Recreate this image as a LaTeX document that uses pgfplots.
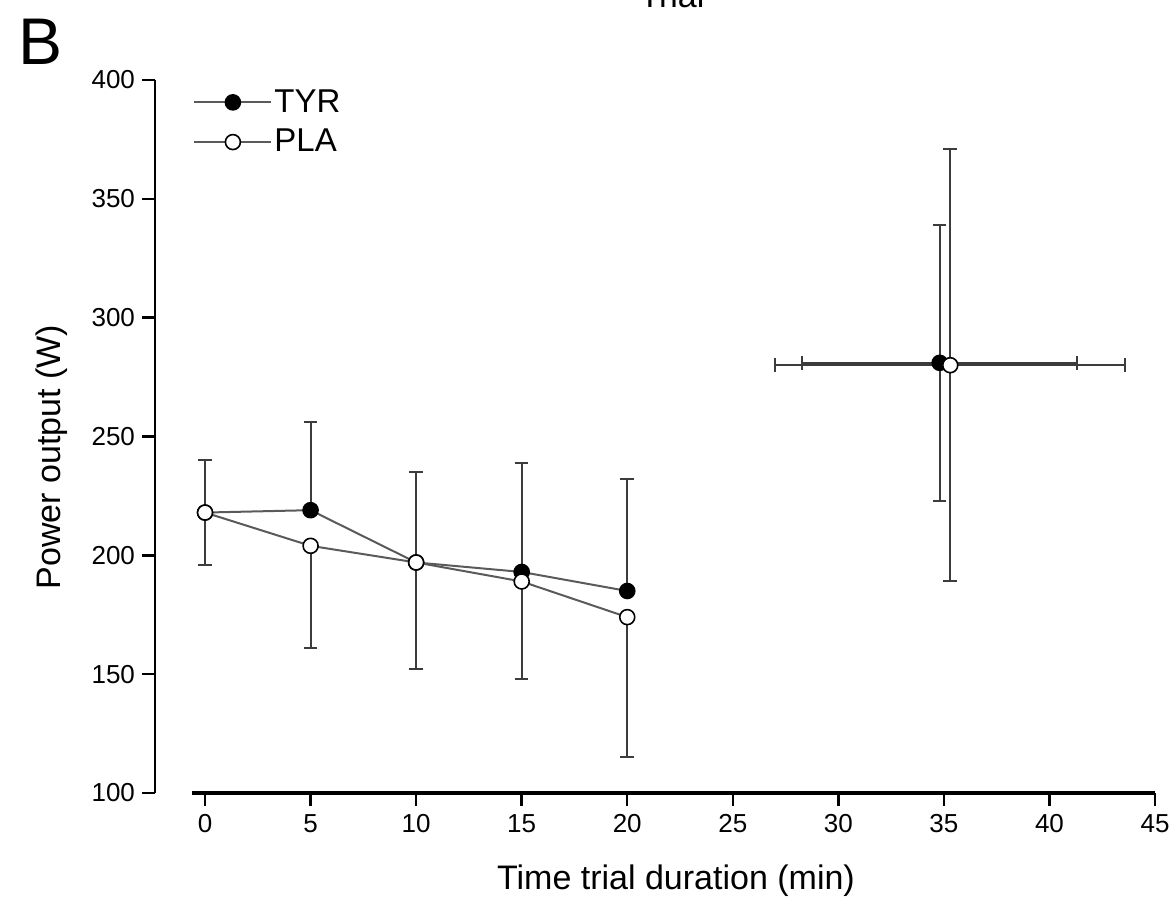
\documentclass[border=0pt]{standalone}
\usepackage{fontspec}
\setmainfont{Liberation Sans}
\usepackage{pgfplots}
\pgfplotsset{compat=1.18}
\usepackage{pgfplotstable}

\definecolor{linegray}{HTML}{5A5A5A}
\definecolor{errgray}{HTML}{3C3C3C}

% time (min), mean power (W), SD (TYR drawn upwards, PLA downwards)
\pgfplotstableread{
x y ey
0 218 22
5 219 37
10 197 38
15 193 46
20 185 47
}\tyr
\pgfplotstableread{
x y ey
0 218 22
5 204 43
10 197 45
15 189 41
20 174 59
}\pla
% whole time trial: mean duration and power, SD both ways
\pgfplotstableread{
x y ex ey
34.8 281 6.5 58
}\tyrend
\pgfplotstableread{
x y ex ey
35.3 280 8.3 91
}\plaend

\begin{document}
\begin{tikzpicture}
\begin{axis}[
  scale only axis,
  width=500pt, height=356.5pt,
  xmin=-2.37, xmax=45,
  ymin=100, ymax=400,
  axis y line*=left,
  axis x line*=bottom,
  x axis line style={draw=none},
  y axis line style={line width=1.4pt},
  xtick={0,5,...,45},
  ytick={100,150,...,400},
  tick align=outside,
  major tick length=6.5pt,
  every tick/.style={black, line width=1.2pt},
  tick label style={font=\fontsize{13}{15}\selectfont},
  x tick label style={text height=9.5pt, text depth=0pt},
  /pgf/number format/assume math mode=true,
  clip=false,
  legend style={draw=none, fill=none, at={(rel axis cs:0.038,0.99)},
    anchor=north west, font=\fontsize{16.5}{19}\selectfont,
    row sep=5pt, inner sep=0pt, nodes={inner sep=1pt}},
  legend cell align=left,
  legend image code/.code={\draw[mark repeat=2,mark phase=2,#1]
    plot coordinates {(0pt,0pt) (19.25pt,0pt) (38.5pt,0pt)};},
  error bars/error bar style={line width=1pt, errgray},
  error bars/error mark options={rotate=90, line width=1pt, mark size=3.4pt, errgray},
]

\addplot[linegray, line width=1pt, mark=*, mark size=3.75pt,
  mark options={draw=black, fill=black, line width=0.8pt},
  error bars/.cd, y dir=plus, y explicit]
  table[x=x, y=y, y error=ey]{\tyr};
\addlegendentry{TYR}

\addplot[linegray, line width=1pt, mark=*, mark size=3.75pt,
  mark options={draw=black, fill=white, line width=0.8pt},
  error bars/.cd, y dir=minus, y explicit]
  table[x=x, y=y, y error=ey]{\pla};
\addlegendentry{PLA}

\addplot[only marks, forget plot, mark=*, mark size=3.75pt,
  mark options={draw=black, fill=black, line width=0.8pt},
  error bars/.cd, x dir=both, x explicit, y dir=both, y explicit]
  table[x=x, y=y, x error=ex, y error=ey]{\tyrend};

\addplot[only marks, forget plot, mark=*, mark size=3.75pt,
  mark options={draw=black, fill=white, line width=0.8pt},
  error bars/.cd, x dir=both, x explicit, y dir=both, y explicit]
  table[x=x, y=y, x error=ex, y error=ey]{\plaend};

\draw[line width=1.8pt] (axis cs:-0.62,100) -- (axis cs:45,100);

\node[font=\fontsize{17}{20}\selectfont] at (rel axis cs:0.521,-0.1234) {Time trial duration (min)};
\node[font=\fontsize{17}{20}\selectfont, rotate=90] at (rel axis cs:-0.103,0.471) {Power output (W)};
\node[font=\fontsize{33}{38}\selectfont] at (rel axis cs:-0.114,1.054) {B};
\node[font=\fontsize{17}{20}\selectfont, anchor=base] at (rel axis cs:0.517,1.101) {Trial};
\end{axis}
\pgfresetboundingbox
\useasboundingbox (-77.5pt,-58.5pt) rectangle (510.5pt,396.5pt);
\end{tikzpicture}
\end{document}
